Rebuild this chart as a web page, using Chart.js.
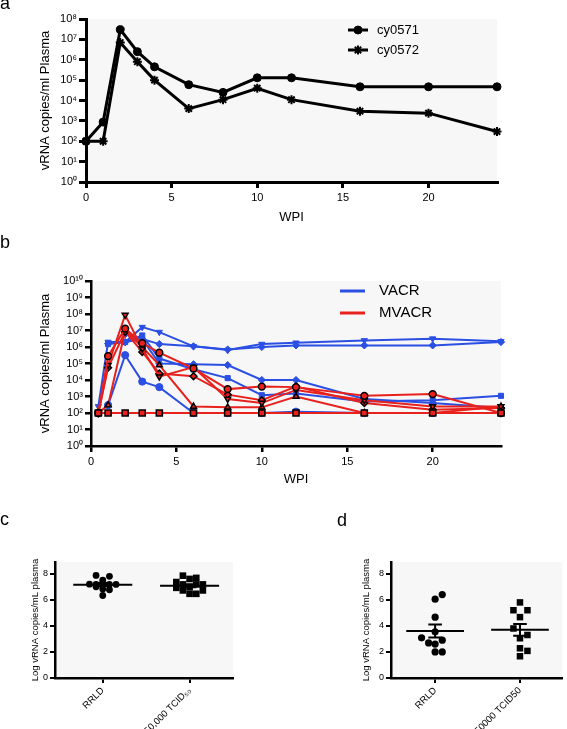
<!DOCTYPE html>
<html>
<head>
<meta charset="utf-8">
<script src="https://cdn.jsdelivr.net/npm/chart.js@4.4.1/dist/chart.umd.min.js"></script>
<style>
	body { margin: 0; background: #fff; }
	#wrap { position: relative; width: 567px; height: 729px; overflow: hidden; font-family: "Liberation Sans", Arial, sans-serif; }
	canvas { position: absolute; }
	.panel-label { position: absolute; font-size: 18px; line-height: 18px; color: #000; }
</style>
</head>
<body>
<div id="wrap">
	<canvas id="chart-a" width="567" height="250" style="left:0;top:0"></canvas>
	<canvas id="chart-b" width="567" height="240" style="left:0;top:250px"></canvas>
	<canvas id="chart-c" width="290" height="239" style="left:0;top:490px"></canvas>
	<canvas id="chart-d" width="267" height="239" style="left:300px;top:490px"></canvas>
	<div class="panel-label" style="left:0;top:-6px">a</div>
	<div class="panel-label" style="left:0;top:233px">b</div>
	<div class="panel-label" style="left:0;top:510px">c</div>
	<div class="panel-label" style="left:337px;top:511px">d</div>
</div>
<script>
// panel a
var weeksA = [0, 1, 2, 3, 4, 6, 8, 10, 12, 16, 20, 24];
var cy0571 = [1e2, 8.7e2, 3e7, 2.5e6, 4.5e5, 6e4, 2.5e4, 1.3e5, 1.3e5, 4.7e4, 4.7e4, 4.7e4];
var cy0572 = [1e2, 1e2, 7e6, 8e5, 1e5, 4e3, 1.1e4, 4e4, 1.1e4, 3e3, 2.4e3, 3e2];
var weekTicksA = [0, 5, 10, 15, 20];
var decadesA = [0, 1, 2, 3, 4, 5, 6, 7, 8];

// panel b
var weeksB = [0.43, 1, 2, 3, 4, 6, 8, 10, 12, 16, 20, 24];
var vacr1 = [2.5e2, 2.0e6, 2.0e6, 1.6e7, 8.0e6, 1.1e6, 6.5e5, 1.5e6, 1.8e6, 2.5e6, 3.2e6, 2.2e6];
var vacr2 = [null, 1.6e6, 2.0e6, 3.0e6, 1.5e6, 1.1e6, 7.0e5, 1.0e6, 1.25e6, 1.25e6, 1.25e6, 2.0e6];
var vacr3 = [null, 3.0e2, 3.2e5, 8.0e3, 3.7e3, 1.0e2, 1.0e2, 1.0e2, 1.2e2, 1.0e2, 1.0e2, 1.0e2];
var vacr4 = [null, 1.5e6, 2.0e6, 5.0e6, 2.0e5, 4.5e4, 1.3e4, 1.2e3, 1.5e3, 5.0e2, 6.0e2, 1.1e3];
var vacr5 = [null, null, 6.0e6, 3.0e6, 1.0e5, 9.0e4, 8.0e4, 1.0e4, 1.0e4, 7.0e2, 4.0e2, 2.0e2];
var mvacr1 = [1e2, 1e2, 1e2, 1e2, 1e2, 1e2, 1e2, 1e2, 1e2, 1e2, 1e2, 1e2];
var mvacr2 = [1e2, 2.8e5, 1.3e7, 1.7e6, 4.5e5, 5e4, 2.8e3, 4e3, 3.7e3, 1.1e3, 1.4e3, 1e2];
var mvacr3 = [1e2, 8e4, 8.7e7, 8e5, 1.6e4, 6e4, 7e2, 4e2, 2.5e3, 6e2, 2.5e2, 2.5e2];
var mvacr4 = [1e2, 5.6e4, 8.5e6, 5e5, 2.5e4, 1.7e4, 1.3e3, 6e2, 4e3, 4e2, 1.6e2, 2e2];
var mvacr5 = [1e2, 3e2, 1e7, 1e6, 8e4, 2.5e2, 2.2e2, 2.2e2, 1e3, 1e2, 1e2, 2.5e2];
var groupLabelsB = ["VACR", "MVACR"];
var decadesB = [0, 1, 2, 3, 4, 5, 6, 7, 8, 9, 10];

// panel c
var groupsC = ["RRLD", "50,000 TCID\u2085\u2080"];
var rrldC = [7.87, 7.8, 7.5, 7.2, 7.18, 7.25, 7.18, 7.18, 7.0, 6.82, 6.77, 6.33];
var rrldJitterC = [-0.077, 0.077, 0, -0.153, -0.077, 0, 0.077, 0.153, -0.077, 0, 0.077, 0];
var tcidC = [7.85, 7.68, 7.6, 7.36, 7.18, 7.18, 7.18, 6.92, 6.97, 6.72, 6.72, 6.46, 6.46];
var tcidJitterC = [-0.077, 0.077, 0, -0.153, -0.077, 0.077, 0.153, -0.153, 0, -0.077, 0.153, 0, 0.077];
var meanC = [7.16, 7.08];
var semC = [0.12, 0.12];

// panel d
var groupsD = ["RRLD", "50000 TCID50"];
var rrldD = [6.4, 6.05, 4.67, 3.54, 3.08, 2.69, 2.6, 2.9, 2.0, 2.0];
var rrldJitterD = [0.084, 0, 0, 0, -0.16, -0.077, 0, 0.084, 0, 0.084];
var tcidD = [5.8, 5.2, 5.2, 4.67, 3.8, 3.3, 3.05, 2.28, 2.08, 1.67];
var tcidJitterD = [0, -0.077, 0.088, 0, -0.077, 0.088, 0, 0, 0.088, 0];
var meanD = [3.6, 3.7];
var semD = [0.5, 0.45];

var yTicksCD = [0, 2, 4, 6, 8];

var FONT = "'Liberation Sans', Arial, Helvetica, sans-serif";
var BLUE = "#2b4fe3";
var RED = "#e8211d";
var SUP = { "0": "\u2070", "1": "\u00b9", "2": "\u00b2", "3": "\u00b3", "4": "\u2074", "5": "\u2075", "6": "\u2076", "7": "\u2077", "8": "\u2078", "9": "\u2079" };

function pow10Label(value) {
	var e = Math.round(Math.log10(value));
	return "10" + String(e).split("").map(function (c) { return SUP[c]; }).join("");
}

function toPoints(xs, ys) {
	return xs.map(function (x, i) { return { x: x, y: ys[i] }; });
}

//* mean line plus SEM bars, gaps split the segments
function meanSemPoints(center, mean, sem) {
	return [
		{ x: center - 0.34, y: mean }, { x: center + 0.34, y: mean }, { x: center, y: null },
		{ x: center - 0.08, y: mean + sem }, { x: center + 0.08, y: mean + sem }, { x: center, y: null },
		{ x: center, y: mean + sem }, { x: center, y: mean - sem }, { x: center, y: null },
		{ x: center - 0.08, y: mean - sem }, { x: center + 0.08, y: mean - sem },
	];
}

var plotBackground = {
	id: "plotBackground",
	beforeDraw: function (chart) {
		var a = chart.chartArea;
		chart.ctx.save();
		chart.ctx.fillStyle = "#f7f7f7";
		chart.ctx.fillRect(a.left, a.top, a.right - a.left, a.bottom - a.top);
		chart.ctx.restore();
	},
};

//* legend drawn by hand: short line, optional marker, label
function makeLineLegend(items, cfg) {
	return {
		id: "lineLegend",
		afterDraw: function (chart) {
			var ctx = chart.ctx;
			ctx.save();
			items.forEach(function (item, i) {
				var y = cfg.y + i * cfg.gap;
				ctx.strokeStyle = item.color;
				ctx.fillStyle = item.color;
				ctx.lineWidth = cfg.lineWidth;
				ctx.beginPath();
				ctx.moveTo(cfg.x, y);
				ctx.lineTo(cfg.x + cfg.length, y);
				ctx.stroke();
				if (item.pointStyle) {
					ctx.lineWidth = item.borderWidth;
					Chart.helpers.drawPoint(ctx, { pointStyle: item.pointStyle, radius: item.radius, borderWidth: item.borderWidth, rotation: 0 }, cfg.x + cfg.length / 2, y);
				}
				ctx.fillStyle = "#000";
				ctx.font = cfg.fontSize + "px " + FONT;
				ctx.textBaseline = "middle";
				ctx.textAlign = "left";
				ctx.fillText(item.text, cfg.textX, y);
			});
			ctx.restore();
		},
	};
}

function axisGrid(tickLength, width) {
	return { display: true, drawOnChartArea: false, drawTicks: true, tickLength: tickLength, lineWidth: width, color: "#000" };
}

// ---------- panel a ----------
var datasetsA = [
	{ label: "cy0571", data: toPoints(weeksA, cy0571), pointStyle: "circle", pointRadius: 4, pointBorderWidth: 1 },
	{ label: "cy0572", data: toPoints(weeksA, cy0572), pointStyle: "star", pointRadius: 4.5, pointBorderWidth: 2 },
].map(function (ds) {
	return Object.assign(ds, {
		borderColor: "#000", backgroundColor: "#000", pointBackgroundColor: "#000", pointBorderColor: "#000",
		borderWidth: 3, tension: 0, clip: false,
	});
});
var legendItemsA = datasetsA.map(function (ds) {
	return { text: ds.label, color: "#000", pointStyle: ds.pointStyle, radius: ds.pointRadius, borderWidth: ds.pointBorderWidth };
});

new Chart(document.getElementById("chart-a"), {
	type: "line",
	data: { datasets: datasetsA },
	plugins: [plotBackground, makeLineLegend(legendItemsA, { x: 348, y: 30, gap: 20, length: 20, textX: 377, lineWidth: 3, fontSize: 13 })],
	options: {
		responsive: false,
		animation: false,
		layout: { padding: { top: 19, right: 70, left: 0, bottom: 0 } },
		plugins: { legend: { display: false }, tooltip: { enabled: false } },
		scales: {
			x: {
				type: "linear", min: 0, max: 24,
				afterBuildTicks: function (s) { s.ticks = weekTicksA.map(function (v) { return { value: v }; }); },
				afterFit: function (s) { s.height = 68; },
				grid: axisGrid(6, 3),
				border: { display: true, width: 3, color: "#000" },
				ticks: { color: "#000", font: { family: FONT, size: 11 }, padding: 3 },
				title: { display: true, text: "WPI", color: "#000", font: { family: FONT, size: 13 }, padding: { top: 0, bottom: 25 } },
			},
			y: {
				type: "logarithmic", min: 1, max: 1e8,
				afterBuildTicks: function (s) { s.ticks = decadesA.map(function (e) { return { value: Math.pow(10, e) }; }); },
				afterFit: function (s) { s.width = 86; },
				grid: axisGrid(7, 3),
				border: { display: true, width: 3, color: "#000" },
				ticks: { color: "#000", font: { family: FONT, size: 11 }, padding: 2, callback: pow10Label },
				title: { display: true, text: "vRNA copies/ml Plasma", color: "#000", font: { family: FONT, size: 13 }, padding: { top: 38, bottom: 0 } },
			},
		},
	},
});

// ---------- panel b ----------
var vacrSeries = [vacr1, vacr2, vacr3, vacr4, vacr5];
var vacrMarkers = [["triangle", 180], ["rectRot", 0], ["circle", 0], ["rect", 0], ["rectRot", 0]];
var mvacrSeries = [mvacr1, mvacr2, mvacr3, mvacr4, mvacr5];
var mvacrMarkers = [["rect", 0], ["circle", 0], ["triangle", 180], ["rectRot", 0], ["triangle", 0]];

var datasetsB = [];
mvacrSeries.forEach(function (series, i) {
	datasetsB.push({
		label: groupLabelsB[1], data: toPoints(weeksB, series),
		borderColor: RED, backgroundColor: RED, borderWidth: 2,
		pointStyle: mvacrMarkers[i][0], rotation: mvacrMarkers[i][1],
		pointRadius: mvacrMarkers[i][0] === "rect" ? 4.3 : 3.4,
		pointBackgroundColor: RED, pointBorderColor: "#000", pointBorderWidth: 1.5,
		tension: 0, clip: false,
	});
});
vacrSeries.forEach(function (series, i) {
	datasetsB.push({
		label: groupLabelsB[0], data: toPoints(weeksB, series),
		borderColor: BLUE, backgroundColor: BLUE, borderWidth: 2,
		pointStyle: vacrMarkers[i][0], rotation: vacrMarkers[i][1],
		pointRadius: 3.6, pointBackgroundColor: BLUE, pointBorderColor: BLUE, pointBorderWidth: 1,
		tension: 0, clip: false,
	});
});
var legendItemsB = [{ text: groupLabelsB[0], color: BLUE }, { text: groupLabelsB[1], color: RED }];

new Chart(document.getElementById("chart-b"), {
	type: "line",
	data: { datasets: datasetsB },
	plugins: [plotBackground, makeLineLegend(legendItemsB, { x: 340, y: 41, gap: 22, length: 25, textX: 379, lineWidth: 3, fontSize: 15 })],
	options: {
		responsive: false,
		animation: false,
		layout: { padding: { top: 31, right: 66, left: 0, bottom: 0 } },
		plugins: { legend: { display: false }, tooltip: { enabled: false } },
		scales: {
			x: {
				type: "linear", min: 0, max: 24,
				afterBuildTicks: function (s) { s.ticks = weekTicksA.map(function (v) { return { value: v }; }); },
				afterFit: function (s) { s.height = 44; },
				grid: axisGrid(6, 2.5),
				border: { display: true, width: 2.5, color: "#000" },
				ticks: { color: "#000", font: { family: FONT, size: 11 }, padding: 3 },
				title: { display: true, text: "WPI", color: "#000", font: { family: FONT, size: 13 }, padding: { top: 0, bottom: 3 } },
			},
			y: {
				type: "logarithmic", min: 1, max: 1e10,
				afterBuildTicks: function (s) { s.ticks = decadesB.map(function (e) { return { value: Math.pow(10, e) }; }); },
				afterFit: function (s) { s.width = 91; },
				grid: axisGrid(6, 2.5),
				border: { display: true, width: 2.5, color: "#000" },
				ticks: { color: "#000", font: { family: FONT, size: 11 }, padding: 2, callback: pow10Label },
				title: { display: true, text: "vRNA copies/ml Plasma", color: "#000", font: { family: FONT, size: 13 }, padding: { top: 38, bottom: 0 } },
			},
		},
	},
});

// ---------- panels c and d ----------
function dotPlot(canvasId, groups, values0, jitter0, values1, jitter1, means, sems, box) {
	var datasets = [
		{ data: values0.map(function (v, i) { return { x: 0 + jitter0[i], y: v }; }), pointStyle: "circle", pointRadius: box.circle },
		{ data: values1.map(function (v, i) { return { x: 1 + jitter1[i], y: v }; }), pointStyle: "rect", pointRadius: box.rect },
	].map(function (ds) {
		return Object.assign(ds, { pointBackgroundColor: "#000", pointBorderColor: "#000", pointBorderWidth: 0, clip: false });
	});
	means.forEach(function (m, i) {
		datasets.push({
			data: meanSemPoints(i, m, sems[i]), showLine: true, spanGaps: false,
			borderColor: "#000", borderWidth: 2, pointRadius: 0, clip: false,
		});
	});

	new Chart(document.getElementById(canvasId), {
		type: "scatter",
		data: { datasets: datasets },
		plugins: [plotBackground],
		options: {
			responsive: false,
			animation: false,
			layout: { padding: { top: 72, right: box.right, left: 0, bottom: 0 } },
			plugins: { legend: { display: false }, tooltip: { enabled: false } },
			scales: {
				x: {
					type: "linear", min: box.xMin, max: 1.5,
					afterBuildTicks: function (s) { s.ticks = [{ value: 0 }, { value: 1 }]; },
					afterFit: function (s) { s.height = 51; },
					grid: axisGrid(5, 2),
					border: { display: true, width: 2.5, color: "#000" },
					ticks: {
						color: "#000", font: { family: FONT, size: 9.5 }, padding: 2,
						minRotation: 45, maxRotation: 45, autoSkip: false,
						callback: function (v) { return groups[v]; },
					},
				},
				y: {
					type: "linear", min: 0, max: 8.9,
					afterBuildTicks: function (s) { s.ticks = yTicksCD.map(function (v) { return { value: v }; }); },
					afterFit: function (s) { s.width = box.yWidth; },
					grid: axisGrid(5, 2),
					border: { display: true, width: 2.5, color: "#000" },
					ticks: { color: "#000", font: { family: FONT, size: 9 }, padding: 2 },
					title: {
						display: true, text: "Log vRNA copies/mL plasma", color: "#000",
						font: { family: FONT, size: 9.5 }, padding: { top: box.titlePad, bottom: 0 },
					},
				},
			},
		},
	});
}

dotPlot("chart-c", groupsC, rrldC, rrldJitterC, tcidC, tcidJitterC, meanC, semC,
	{ circle: 3.4, rect: 4.7, right: 57, xMin: -0.55, yWidth: 55, titlePad: 29.3 });
dotPlot("chart-d", groupsD, rrldD, rrldJitterD, tcidD, tcidJitterD, meanD, semD,
	{ circle: 3.6, rect: 4.6, right: 0, xMin: -0.52, yWidth: 91, titlePad: 60.3 });
</script>
</body>
</html>
